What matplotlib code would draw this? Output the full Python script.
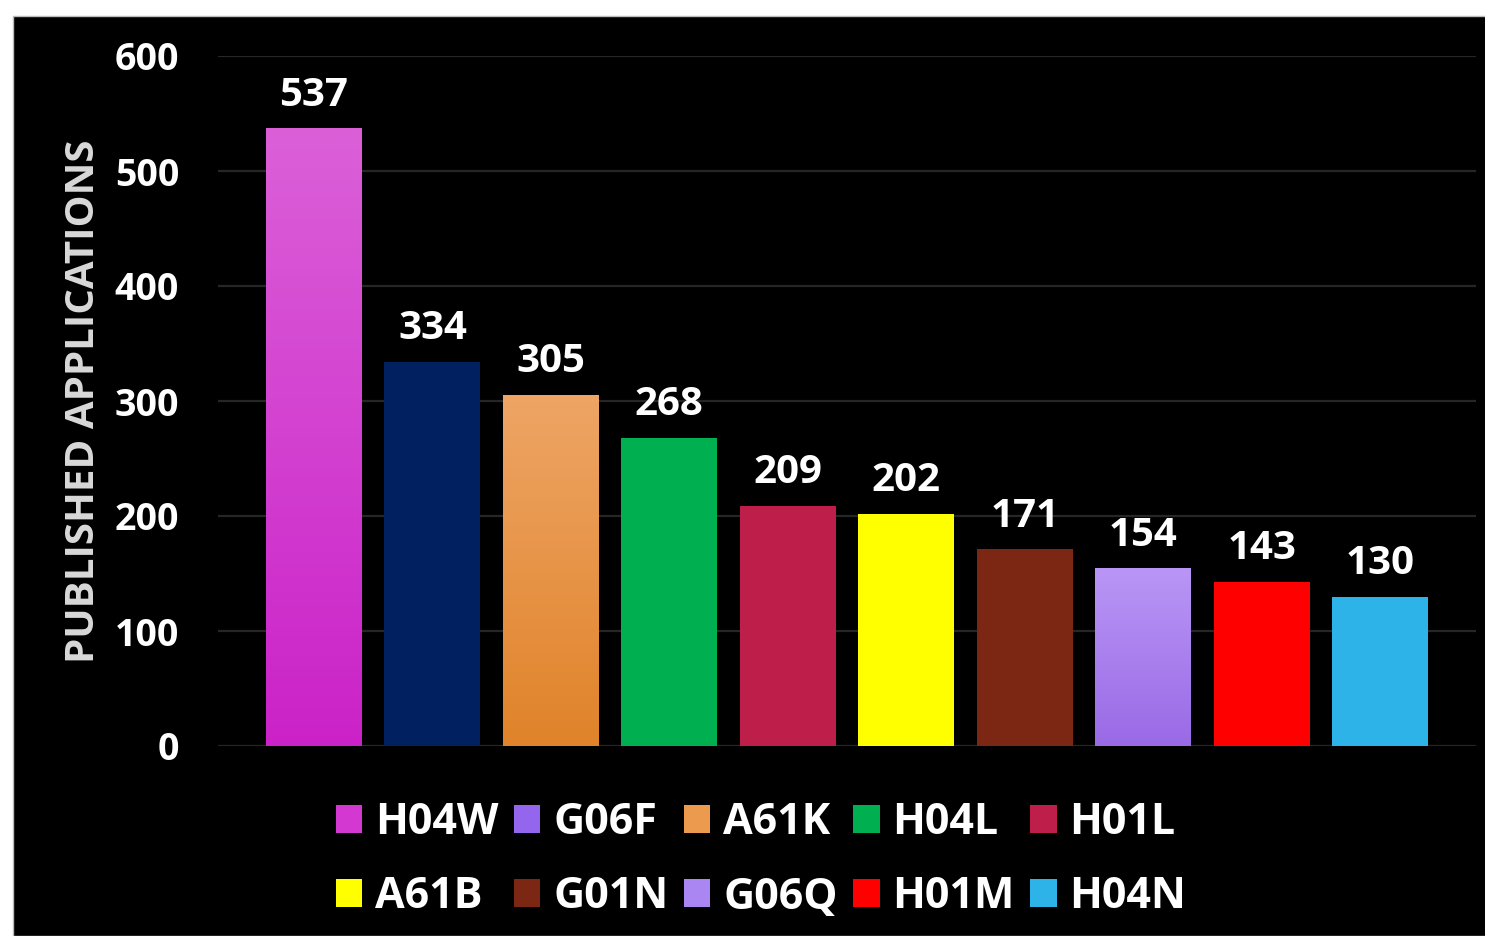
import numpy as np
import matplotlib.pyplot as plt
from matplotlib.patches import Rectangle, Patch
from matplotlib.colors import LinearSegmentedColormap

plt.rcParams['font.family'] = ['Open Sans', 'DejaVu Sans']
plt.rcParams['font.weight'] = 'bold'

codes = ['H04W', 'G06F', 'A61K', 'H04L', 'H01L', 'A61B', 'G01N', 'G06Q', 'H01M', 'H04N']
counts = [537, 334, 305, 268, 209, 202, 171, 154, 143, 130]
bar_colors = ['#D733D3', '#002060', '#EC9A4E', '#00B050', '#BE1E4A',
              '#FFFF00', '#7B2714', '#A986F2', '#FF0000', '#2EB3E8']
legend_colors = ['#D338D0', '#9466EE', '#EC9A4E', '#00B050', '#BE1E4A',
                 '#FFFF00', '#7B2714', '#A986F2', '#FF0000', '#2EB3E8']
# top / bottom colours for the bars drawn with a gradient
gradients = {0: ('#DB60D8', '#CB22C8'), 2: ('#EEA565', '#E0832A'), 7: ('#B996F6', '#9A6AE6')}

fig = plt.figure(figsize=(14.85, 9.36), dpi=100, facecolor='white')
fig.patches.append(Rectangle((13 / 1485, 0), 1, 1 - 16 / 936, transform=fig.transFigure,
                             facecolor='black', edgecolor='#BBBBBB', lw=1, zorder=-10))

ax = fig.add_axes([218 / 1485, 1 - 746 / 936, 1258 / 1485, 690 / 936])
ax.set_facecolor('black')
x = np.arange(len(codes))
w = 0.81
bars = ax.bar(x, counts, width=w, color=bar_colors, zorder=2)

for i, (top, bot) in gradients.items():
    cmap = LinearSegmentedColormap.from_list('g%d' % i, [bot, top])
    grad = np.linspace(0, 1, 256).reshape(-1, 1)
    b = bars[i]
    ax.imshow(grad, cmap=cmap, origin='lower', aspect='auto', zorder=3,
              extent=(b.get_x(), b.get_x() + b.get_width(), 0, b.get_height()))

for xi, v in zip(x, counts):
    ax.text(xi, v + 12, str(v), ha='center', va='bottom', color='white',
            fontsize=29, fontweight='bold')

ax.set_xlim(-0.81, len(codes) - 1 + 0.81)
ax.set_ylim(0, 600)
ax.set_yticks(range(0, 601, 100))
ax.yaxis.grid(True, color='#262626', lw=1.6, zorder=0)
ax.set_axisbelow(True)
ax.set_xticks([])
ax.tick_params(axis='y', length=0, pad=28, labelcolor='white', labelsize=27)
for lab in ax.get_yticklabels():
    lab.set_fontweight('bold')
for s in ax.spines.values():
    s.set_visible(False)
ax.set_ylabel('PUBLISHED APPLICATIONS', color='#D9D9D9', fontsize=29,
              fontweight='bold', labelpad=8)

# legend: 5 columns, filled row by row like the original
handles = [Patch(facecolor=c, label=l) for c, l in zip(legend_colors, codes)]
order = [0, 5, 1, 6, 2, 7, 3, 8, 4, 9]
leg = fig.legend([handles[k] for k in order], [codes[k] for k in order],
                 ncol=5, loc='center', bbox_to_anchor=(761 / 1485, 1 - 860 / 936),
                 frameon=False, fontsize=31, labelcolor='white',
                 handlelength=0.62, handleheight=0.62, handletextpad=0.3,
                 columnspacing=0.35, labelspacing=0.72)
for t in leg.get_texts():
    t.set_fontweight('bold')

fig.savefig('out.png', dpi=100, facecolor='white')
